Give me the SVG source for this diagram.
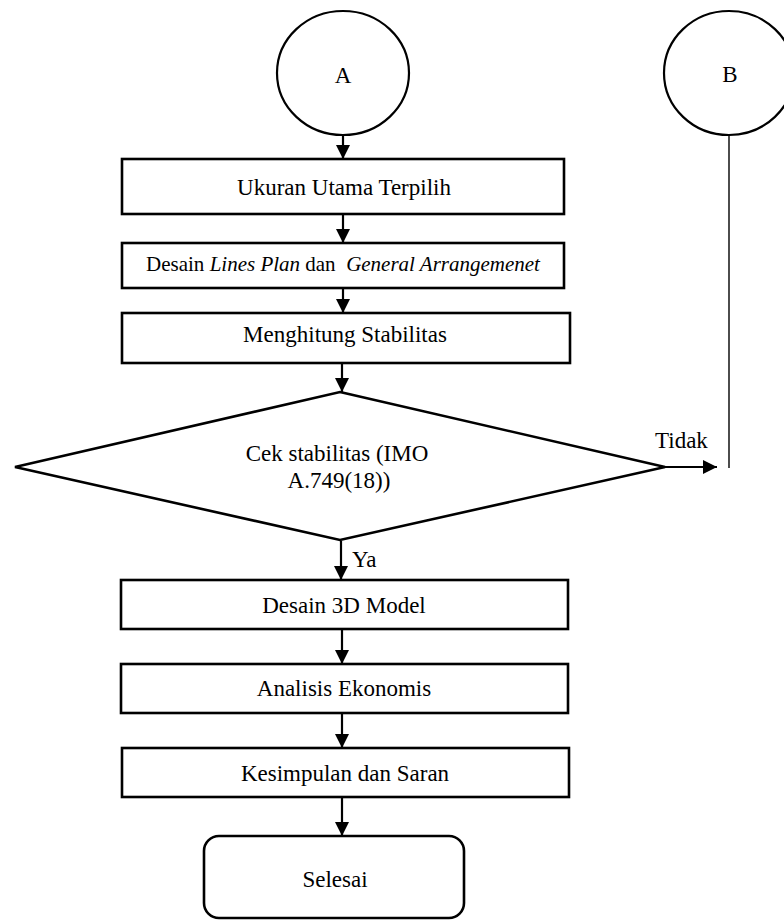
<svg xmlns="http://www.w3.org/2000/svg" width="784" height="920" viewBox="0 0 784 920">
<style>
  .box { fill: #fff; stroke: #000; stroke-width: 2.6; }
  .circ { fill: #fff; stroke: #000; stroke-width: 2.2; }
  .t { font-family: "Liberation Serif", "Times New Roman", serif; font-size: 23px; fill: #000; }
  .s { font-size: 21px; white-space: pre; }
  .c { text-anchor: middle; }
  .i { font-style: italic; }
  .ln { stroke: #000; stroke-width: 2.2; fill: none; }
  .thin { stroke: #000; stroke-width: 1.4; fill: none; }
</style>
<defs>
  <marker id="ah" markerUnits="userSpaceOnUse" markerWidth="15" markerHeight="15" refX="14" refY="7" orient="auto">
    <path d="M0,0 L14,7 L0,14 Z" fill="#000"/>
  </marker>
</defs>
<rect width="784" height="920" fill="#fff"/>

<g id="connectors">
  <line class="ln" x1="343" y1="136" x2="343" y2="159" marker-end="url(#ah)"/>
  <line class="ln" x1="343" y1="215" x2="343" y2="243" marker-end="url(#ah)"/>
  <line class="ln" x1="343" y1="289" x2="343" y2="313" marker-end="url(#ah)"/>
  <line class="ln" x1="342" y1="364" x2="342" y2="392" marker-end="url(#ah)"/>
  <line class="ln" x1="665" y1="467" x2="717" y2="467" marker-end="url(#ah)"/>
  <line class="thin" x1="729" y1="135" x2="729" y2="468"/>
  <line class="ln" x1="341" y1="541" x2="341" y2="580" marker-end="url(#ah)"/>
  <line class="ln" x1="342" y1="630" x2="342" y2="664" marker-end="url(#ah)"/>
  <line class="ln" x1="342" y1="714" x2="342" y2="748" marker-end="url(#ah)"/>
  <line class="ln" x1="342" y1="798" x2="342" y2="836" marker-end="url(#ah)"/>
  <text class="t" x="655" y="448">Tidak</text>
  <text class="t" x="352" y="567">Ya</text>
</g>

<g id="nodeA">
  <ellipse class="circ" cx="343" cy="73" rx="66" ry="62"/>
  <text class="t c" x="343" y="83">A</text>
</g>
<g id="nodeB">
  <ellipse class="circ" cx="729" cy="73" rx="65" ry="62"/>
  <text class="t c" x="730" y="82">B</text>
</g>
<g id="box1">
  <rect class="box" x="122" y="159" width="442" height="55"/>
  <text class="t c" x="344" y="195">Ukuran Utama Terpilih</text>
</g>
<g id="box2">
  <rect class="box" x="122" y="243" width="442" height="45"/>
  <text class="t s c" x="343" y="271">Desain <tspan class="i">Lines Plan</tspan> dan  <tspan class="i">General Arrangemenet</tspan></text>
</g>
<g id="box3">
  <rect class="box" x="122" y="313" width="448" height="50"/>
  <text class="t c" x="345" y="342">Menghitung Stabilitas</text>
</g>
<g id="decision">
  <polygon class="box" points="340,392 665,467 340,540 15,467"/>
  <text class="t c" x="337" y="461">Cek stabilitas (IMO</text>
  <text class="t c" x="339" y="488">A.749(18))</text>
</g>
<g id="box4">
  <rect class="box" x="121" y="580" width="447" height="49"/>
  <text class="t c" x="344" y="613">Desain 3D Model</text>
</g>
<g id="box5">
  <rect class="box" x="121" y="664" width="447" height="49"/>
  <text class="t c" x="344" y="696">Analisis Ekonomis</text>
</g>
<g id="box6">
  <rect class="box" x="122" y="748" width="447" height="49"/>
  <text class="t c" x="345" y="781">Kesimpulan dan Saran</text>
</g>
<g id="end">
  <rect class="box" x="204" y="836" width="260" height="82" rx="15" ry="15"/>
  <text class="t c" x="335" y="887">Selesai</text>
</g>
</svg>
